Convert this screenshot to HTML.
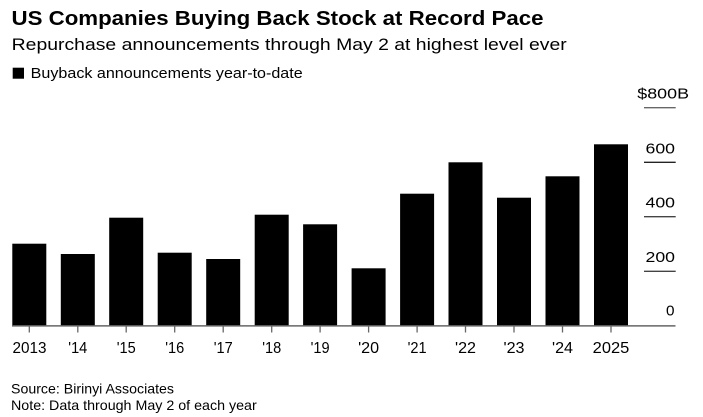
<!DOCTYPE html>
<html><head><meta charset="utf-8"><style>
html,body{margin:0;padding:0;background:#fff;}
svg{display:block;}
text{font-family:"Liberation Sans",Arial,sans-serif;fill:#000;}
</style></head><body>
<svg width="703" height="417" viewBox="0 0 703 417" xmlns="http://www.w3.org/2000/svg">
<rect width="703" height="417" fill="#fff"/>
<text x="11.5" y="25" font-size="20" font-weight="bold" textLength="532" lengthAdjust="spacingAndGlyphs">US Companies Buying Back Stock at Record Pace</text>
<text x="11.7" y="50" font-size="16.5" textLength="555" lengthAdjust="spacingAndGlyphs">Repurchase announcements through May 2 at highest level ever</text>
<rect x="12.7" y="67.7" width="11.3" height="11" fill="#000"/>
<text x="30.7" y="78" font-size="14.5" textLength="272" lengthAdjust="spacingAndGlyphs">Buyback announcements year-to-date</text>

<!-- gridlines -->
<g stroke="#666" stroke-width="1.3">
<line x1="644" y1="107.7" x2="675.7" y2="107.7"/>
<line x1="644" y1="162.3" x2="675.7" y2="162.3" stroke="#222"/>
<line x1="644" y1="216.7" x2="675.7" y2="216.7" stroke="#444"/>
<line x1="644" y1="271.3" x2="675.7" y2="271.3" stroke="#444"/>
</g>
<text x="637.3" y="98.3" font-size="15" textLength="51.7" lengthAdjust="spacingAndGlyphs">$800B</text>
<text x="645.5" y="153.3" font-size="15" textLength="29.5" lengthAdjust="spacingAndGlyphs">600</text>
<text x="645.5" y="207.5" font-size="15" textLength="29.5" lengthAdjust="spacingAndGlyphs">400</text>
<text x="645.5" y="262.2" font-size="15" textLength="29.5" lengthAdjust="spacingAndGlyphs">200</text>
<text x="666" y="315.7" font-size="15" textLength="8.5" lengthAdjust="spacingAndGlyphs">0</text>

<!-- bars -->
<g fill="#000">
<rect x="12.3" y="243.7" width="34" height="82"/>
<rect x="60.8" y="254" width="34" height="71.7"/>
<rect x="109.2" y="217.7" width="34" height="108"/>
<rect x="157.7" y="252.7" width="34" height="73"/>
<rect x="206.2" y="259" width="34" height="66.7"/>
<rect x="254.7" y="214.7" width="34" height="111"/>
<rect x="303.1" y="224.3" width="34" height="101.4"/>
<rect x="351.6" y="268.3" width="34" height="57.4"/>
<rect x="400.1" y="193.7" width="34" height="132"/>
<rect x="448.5" y="162.3" width="34" height="163.4"/>
<rect x="497" y="197.7" width="34" height="128"/>
<rect x="545.5" y="176.3" width="34" height="149.4"/>
<rect x="594" y="144.3" width="34" height="181.4"/>
</g>

<!-- axis -->
<line x1="12" y1="325.9" x2="675.5" y2="325.9" stroke="#666" stroke-width="1.5"/>
<g stroke="#666" stroke-width="1.3">
<line x1="29.3" y1="326" x2="29.3" y2="332.5"/>
<line x1="77.8" y1="326" x2="77.8" y2="332.5"/>
<line x1="126.2" y1="326" x2="126.2" y2="332.5"/>
<line x1="174.7" y1="326" x2="174.7" y2="332.5"/>
<line x1="223.2" y1="326" x2="223.2" y2="332.5"/>
<line x1="271.7" y1="326" x2="271.7" y2="332.5"/>
<line x1="320.1" y1="326" x2="320.1" y2="332.5"/>
<line x1="368.6" y1="326" x2="368.6" y2="332.5"/>
<line x1="417.1" y1="326" x2="417.1" y2="332.5"/>
<line x1="465.5" y1="326" x2="465.5" y2="332.5"/>
<line x1="514" y1="326" x2="514" y2="332.5"/>
<line x1="562.5" y1="326" x2="562.5" y2="332.5"/>
<line x1="611" y1="326" x2="611" y2="332.5"/>
</g>
<g font-size="16" text-anchor="middle">
<text x="29.5" y="353" textLength="34" lengthAdjust="spacingAndGlyphs">2013</text>
<text x="77.8" y="353" textLength="19" lengthAdjust="spacingAndGlyphs">'14</text>
<text x="126.2" y="353" textLength="19" lengthAdjust="spacingAndGlyphs">'15</text>
<text x="174.7" y="353" textLength="19" lengthAdjust="spacingAndGlyphs">'16</text>
<text x="223.2" y="353" textLength="19" lengthAdjust="spacingAndGlyphs">'17</text>
<text x="271.7" y="353" textLength="19" lengthAdjust="spacingAndGlyphs">'18</text>
<text x="320.1" y="353" textLength="19" lengthAdjust="spacingAndGlyphs">'19</text>
<text x="368.6" y="353" textLength="21" lengthAdjust="spacingAndGlyphs">'20</text>
<text x="417.1" y="353" textLength="19" lengthAdjust="spacingAndGlyphs">'21</text>
<text x="465.5" y="353" textLength="21" lengthAdjust="spacingAndGlyphs">'22</text>
<text x="514" y="353" textLength="21" lengthAdjust="spacingAndGlyphs">'23</text>
<text x="562.5" y="353" textLength="21" lengthAdjust="spacingAndGlyphs">'24</text>
<text x="611" y="353" textLength="36.6" lengthAdjust="spacingAndGlyphs">2025</text>
</g>

<text x="11" y="393.3" font-size="14" textLength="163" lengthAdjust="spacingAndGlyphs">Source: Birinyi Associates</text>
<text x="11" y="410" font-size="14" textLength="245.7" lengthAdjust="spacingAndGlyphs">Note: Data through May 2 of each year</text>
</svg>
</body></html>
